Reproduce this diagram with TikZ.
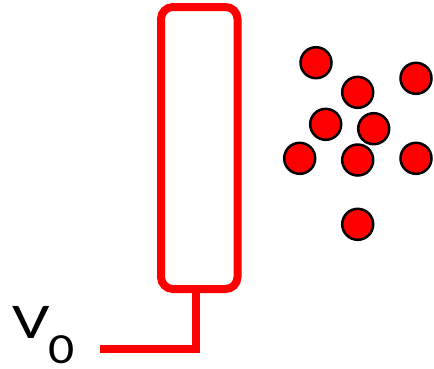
\documentclass[tikz,border=0pt]{standalone}
\usepackage{fontspec}
\setmainfont{Carlito}
\definecolor{tubered}{RGB}{255,0,0}
\begin{document}
\begin{tikzpicture}[x=1pt,y=-1pt,
  tubebox/.style={draw=tubered,line width=8pt,rounded corners=12pt,minimum width=76.5pt,minimum height=282pt,inner sep=0pt},
  wire/.style={draw=tubered,line width=7.5pt,line join=miter},
  particle/.style={circle,fill=tubered,draw=black,line width=2.5pt,minimum size=31pt,inner sep=0pt},
  lbl/.style={inner sep=0pt,text=black}]
\useasboundingbox (0,0) rectangle (434,368);
\node[tubebox] (tube) at (199.25,148) {};
\coordinate (stemtop) at (196,148);
\coordinate (corner) at (196,349);
\coordinate (wireend) at (100,349);
\draw[wire] (stemtop |- tube.south) -- (corner) -- (wireend);
\node[particle] (p1) at (316,62.7) {};
\node[particle] (p2) at (416,78.3) {};
\node[particle] (p3) at (357.7,92.3) {};
\node[particle] (p4) at (325.7,124.3) {};
\node[particle] (p5) at (373.7,128.7) {};
\node[particle] (p6) at (299.7,158.3) {};
\node[particle] (p7) at (357.7,160) {};
\node[particle] (p8) at (416,158.3) {};
\node[particle] (p9) at (357.7,224.3) {};
\node[lbl,anchor=base west] (v) at (12,338.3) {\scalebox{1.32}[1]{\fontsize{50pt}{50pt}\selectfont V}};
\node[lbl,anchor=base west] (sub) at (48.5,363) {\scalebox{1.2}[1]{\fontsize{43pt}{43pt}\selectfont 0}};
\end{tikzpicture}
\end{document}
